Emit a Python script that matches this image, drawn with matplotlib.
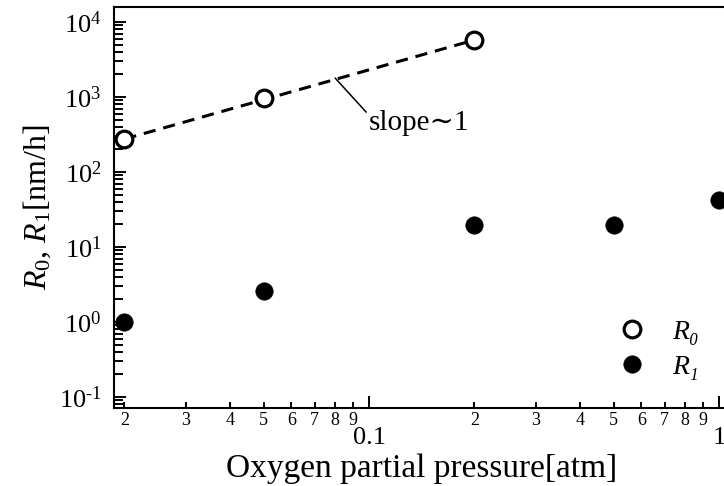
import numpy as np
import matplotlib
matplotlib.use('Agg')
import matplotlib.pyplot as plt
from matplotlib.ticker import LogLocator, FuncFormatter, NullFormatter

# fonts: Times-like serif, DejaVu as fallback for the tilde sign
plt.rcParams['font.family'] = ['Liberation Serif', 'DejaVu Serif']
plt.rcParams['mathtext.fontset'] = 'custom'
plt.rcParams['mathtext.rm'] = 'Liberation Serif'
plt.rcParams['mathtext.it'] = 'Liberation Serif:italic'

# data
po2_r0 = [0.02, 0.05, 0.2]
r0 = [275, 970, 5750]
po2_r1 = [0.02, 0.05, 0.2, 0.5, 1.0]
r1 = [1.0, 2.6, 19.5, 19.5, 42]
fit_x = [0.02, 0.2]
fit_y = [275, 5750]


def pow10_label(v, pos):
    e = int(round(np.log10(v)))
    if e < 0:
        return r'$\mathdefault{10^{\text{-}%d}}$' % (-e)
    return r'$\mathdefault{10^{%d}}$' % e


fig = plt.figure(figsize=(7.24, 4.86), dpi=100)
ax = fig.add_axes([114 / 724, 78 / 486, 616 / 724, 401 / 486])

ax.set_xscale('log')
ax.set_yscale('log')
ax.set_xlim(0.01868, 1.075)
ax.set_ylim(0.0713, 15849)

ax.plot(fit_x, fit_y, color='black', lw=2.2, dashes=(4.0, 2.6), zorder=2)
ax.plot(po2_r0, r0, 'o', ms=12, mfc='white', mec='black', mew=2.3,
        ls='none', zorder=3, label='R₀')
ax.plot(po2_r1, r1, 'o', ms=12.5, mfc='black', mec='black', mew=0.5,
        ls='none', zorder=3, label='R₁')

ax.annotate('slope∼1', xy=(0.080, 1790), xytext=(0.1, 363),
            fontsize=21, ha='left', va='baseline',
            arrowprops=dict(arrowstyle='-', lw=1.1, color='black',
                            shrinkA=0, shrinkB=0, relpos=(0, 0.8)))

# axes styling
for side in ['left', 'bottom', 'top', 'right']:
    ax.spines[side].set_linewidth(1.5)

ax.xaxis.set_major_locator(LogLocator(base=10, numticks=10))
ax.xaxis.set_minor_locator(LogLocator(base=10, subs=np.arange(2, 10), numticks=10))
ax.xaxis.set_major_formatter(FuncFormatter(lambda v, p: '%g' % v))
ax.xaxis.set_minor_formatter(
    FuncFormatter(lambda v, p: '%d' % round(v / 10 ** np.floor(np.log10(v) + 1e-9))))
ax.yaxis.set_major_locator(LogLocator(base=10, numticks=12))
ax.yaxis.set_minor_locator(LogLocator(base=10, subs=np.arange(2, 10), numticks=12))
ax.yaxis.set_major_formatter(FuncFormatter(pow10_label))
ax.yaxis.set_minor_formatter(NullFormatter())

ax.tick_params(which='both', direction='in', top=False, right=False, width=1.4)
ax.tick_params(axis='x', which='major', length=8.6, pad=14, labelsize=19)
ax.tick_params(axis='x', which='minor', length=4.3, pad=3, labelsize=13)
ax.tick_params(axis='y', which='major', length=8.6, pad=9, labelsize=19)
ax.tick_params(axis='y', which='minor', length=6.5)

ax.set_xlabel('Oxygen partial pressure[atm]', fontsize=24, labelpad=3)
ax.set_ylabel(r'$R_{0}$, $R_{1}$[nm/h]', fontsize=23, labelpad=4)

ax.legend(loc='center left', bbox_to_anchor=(619.5 / 724, (486 - 349.5) / 486),
          bbox_transform=fig.transFigure, frameon=False, borderpad=0,
          borderaxespad=0, handlelength=0.9, handletextpad=1.0,
          labelspacing=0.35, prop={'size': 20, 'style': 'italic'})

fig.savefig('out.png', dpi=100)
